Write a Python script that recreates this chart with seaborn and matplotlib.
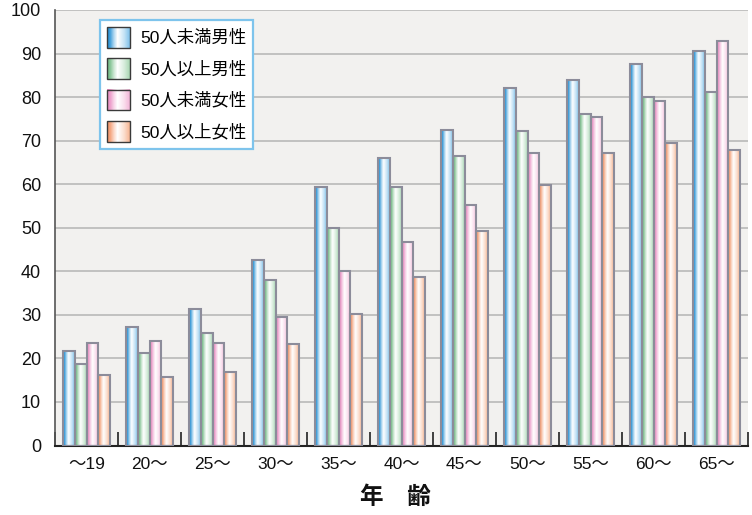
import numpy as np
import pandas as pd
import matplotlib
matplotlib.use("Agg")
import matplotlib.pyplot as plt
import seaborn as sns
from matplotlib.legend_handler import HandlerBase
from matplotlib.image import BboxImage
from matplotlib.transforms import Bbox, TransformedBbox
from matplotlib.patches import Rectangle, Patch

# Age bands on the x axis
age_groups = ["～19", "20～", "25～", "30～", "35～", "40～",
              "45～", "50～", "55～", "60～", "65～"]

# Series names (firm size × sex)
series_names = ["50人未満男性", "50人以上男性", "50人未満女性", "50人以上女性"]

# Values per age band (%)
male_small = [21.6, 27.3, 31.3, 42.6, 59.4, 66.1, 72.5, 82.0, 84.0, 87.6, 90.5]
male_large = [18.7, 21.2, 25.9, 38.0, 49.9, 59.4, 66.4, 72.3, 76.1, 80.0, 81.1]
female_small = [23.5, 24.0, 23.6, 29.4, 40.0, 46.7, 55.3, 67.2, 75.4, 79.0, 92.8]
female_large = [16.2, 15.8, 16.8, 23.4, 30.2, 38.6, 49.3, 59.8, 67.1, 69.5, 67.8]

y_ticks = [0, 10, 20, 30, 40, 50, 60, 70, 80, 90, 100]

# Strong (left edge) and soft (right edge) tones for the bar gradients
strong_tones = ["#1a8bd3", "#6cb87f", "#e888bf", "#f29062"]
soft_tones = ["#7fc1ea", "#a8d6b2", "#f3b5d7", "#f6b592"]

df = pd.DataFrame({
    "年齢": age_groups * 4,
    "区分": np.repeat(series_names, len(age_groups)),
    "割合": male_small + male_large + female_small + female_large,
})


def hex_rgb(h):
    h = h.lstrip("#")
    return np.array([int(h[i:i + 2], 16) for i in (0, 2, 4)]) / 255.0


def gradient_strip(strong, soft, n=64):
    s, f, w = hex_rgb(strong), hex_rgb(soft), np.ones(3)
    stops = [0.0, 0.14, 0.30, 0.46, 0.75, 1.0]
    cols = [s, 0.8 * s + 0.2 * w, 0.35 * s + 0.65 * w, w, 0.45 * f + 0.55 * w, f]
    xs = np.linspace(0, 1, n)
    arr = np.stack([np.interp(xs, stops, [c[k] for c in cols]) for k in range(3)], axis=-1)
    return arr[np.newaxis, :, :]


strips = [gradient_strip(s, f) for s, f in zip(strong_tones, soft_tones)]

plt.rcParams["font.family"] = ["Liberation Sans", "Noto Sans CJK JP", "DejaVu Sans"]

fig = plt.figure(figsize=(7.52, 5.15), dpi=100, facecolor="white")
ax = fig.add_axes([55 / 752, 1 - 445.5 / 515, 693 / 752, 435.5 / 515])
ax.set_facecolor("#f2f1ef")

sns.barplot(data=df, x="年齢", y="割合", hue="区分", hue_order=series_names,
            order=age_groups, width=0.75, palette=strong_tones,
            edgecolor="#8c8c9a", linewidth=1.5, legend=False, ax=ax, zorder=3)

# Fill each bar with its horizontal gradient, keep the grey outline on top
for cont, strip in zip(ax.containers, strips):
    for bar in cont:
        x0, w, h = bar.get_x(), bar.get_width(), bar.get_height()
        ax.imshow(strip, extent=(x0, x0 + w, 0, h), aspect="auto",
                  interpolation="bilinear", zorder=2.5)
        bar.set_facecolor("none")
        bar.set_zorder(3)

ax.set_xlim(-0.5, len(age_groups) - 0.5)
ax.set_ylim(0, 100)
ax.set_yticks(y_ticks)
ax.set_yticklabels([str(v) for v in y_ticks])
ax.yaxis.grid(True, color="#b4b4b4", linewidth=1.1, zorder=0)
ax.xaxis.grid(False)
ax.set_axisbelow(True)

ax.set_xticks(np.arange(len(age_groups)))
ax.set_xticklabels(age_groups)
ax.set_xticks(np.arange(-0.5, len(age_groups), 1), minor=True)
ax.tick_params(axis="x", which="major", length=0, pad=8, labelsize=12.5, labelcolor="#111")
ax.tick_params(axis="x", which="minor", direction="in", length=10, width=1.2, color="#222")
ax.tick_params(axis="y", length=0, pad=10, labelsize=13, labelcolor="#111")

for side in ("top", "right"):
    ax.spines[side].set_visible(False)
ax.spines["left"].set_color("#555555")
ax.spines["left"].set_linewidth(1.2)
ax.spines["bottom"].set_color("#222222")
ax.spines["bottom"].set_linewidth(1.5)

ax.set_ylabel("")
ax.set_xlabel("年　齢", fontsize=17, fontweight="bold", color="#111",
              family=["Noto Sans CJK JP", "DejaVu Sans"])
ax.xaxis.set_label_coords((395 - 55) / 693, -(497 - 445.5) / 435.5)
ax.xaxis.label.set_verticalalignment("center")


class GradientHandler(HandlerBase):
    def __init__(self, strip):
        super().__init__()
        self.strip = strip

    def create_artists(self, legend, orig_handle, xdescent, ydescent,
                       width, height, fontsize, trans):
        bb = TransformedBbox(Bbox.from_bounds(-xdescent, -ydescent, width, height), trans)
        img = BboxImage(bb, interpolation="bilinear")
        img.set_data(self.strip)
        edge = Rectangle((-xdescent, -ydescent), width, height, facecolor="none",
                         edgecolor="#3a3a3a", linewidth=1.0, transform=trans)
        return [img, edge]


handles = [Patch(label=n) for n in series_names]
leg = ax.legend(handles=handles, labels=series_names,
                handler_map={h: GradientHandler(s) for h, s in zip(handles, strips)},
                loc="upper left", bbox_to_anchor=(100 / 752, 1 - 20 / 515),
                bbox_transform=fig.transFigure, borderaxespad=0,
                fontsize=12.5, handlelength=1.3, handleheight=1.45,
                handletextpad=0.6, labelspacing=0.62, borderpad=0.4,
                fancybox=False, framealpha=1, edgecolor="#7ec4ec")
leg.get_frame().set_linewidth(1.6)
leg.set_zorder(10)

fig.savefig("out.png", dpi=100, facecolor="white")
